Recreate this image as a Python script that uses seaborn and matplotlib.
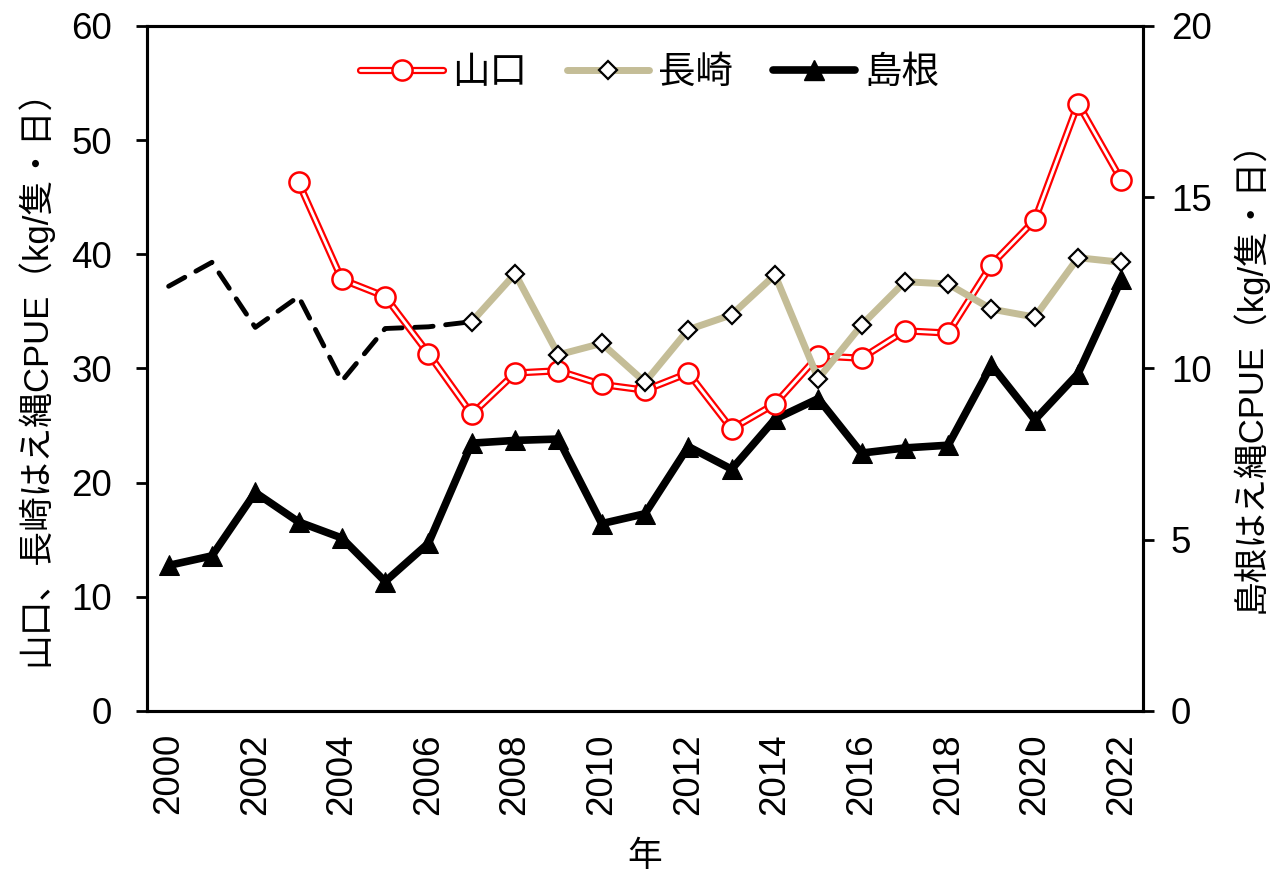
import numpy as np
import pandas as pd
import matplotlib
matplotlib.use("Agg")
import matplotlib.pyplot as plt
from matplotlib.lines import Line2D
from matplotlib.legend_handler import HandlerTuple
import seaborn as sns

# ---------------- data ----------------
years_all = list(range(2000, 2023))
yamaguchi_years = list(range(2003, 2023))
yamaguchi = [46.3, 37.8, 36.3, 31.3, 26.0, 29.6, 29.8, 28.6, 28.1, 29.6,
             24.7, 26.9, 31.1, 30.9, 33.3, 33.1, 39.1, 43.0, 53.2, 46.5]
nagasaki_years = list(range(2007, 2023))
nagasaki = [34.1, 38.3, 31.2, 32.2, 28.8, 33.4, 34.7, 38.2, 29.1, 33.8,
            37.6, 37.4, 35.2, 34.5, 39.7, 39.3]
nagasaki_early_years = list(range(2000, 2008))
nagasaki_early = [37.2, 39.3, 33.6, 36.3, 28.9, 33.5, 33.65, 34.1]
shimane = [4.25, 4.53, 6.38, 5.52, 5.05, 3.78, 4.9, 7.82, 7.9, 7.94,
           5.47, 5.76, 7.72, 7.06, 8.52, 9.12, 7.53, 7.68, 7.76, 10.1,
           8.5, 9.85, 12.6]
series_names = ["山口", "長崎", "島根"]
x_tick_labels = [str(y) for y in range(2000, 2023, 2)]
left_ylabel = "山口、長崎はえ縄CPUE（kg/隻・日）"
right_ylabel = "島根はえ縄CPUE（kg/隻・日）"
xlabel = "年"

# ---------------- style ----------------
sns.set_style("white")
plt.rcParams["font.family"] = ["Liberation Sans", "Noto Sans CJK JP"]
plt.rcParams["axes.linewidth"] = 2.2
for k in ("text.color", "axes.labelcolor", "xtick.color", "ytick.color",
          "axes.edgecolor"):
    plt.rcParams[k] = "black"

RED = "#FF0000"
TAN = "#C4BD97"

fig = plt.figure(figsize=(12.76, 8.74), dpi=100)
ax = fig.add_axes([0.1152, 0.1865, 0.7806, 0.7838])
ax2 = ax.twinx()
ax.set_zorder(ax2.get_zorder() + 1)
ax.patch.set_visible(False)

df_y = pd.DataFrame({"year": yamaguchi_years, "v": yamaguchi})
df_n = pd.DataFrame({"year": nagasaki_years, "v": nagasaki})
df_ne = pd.DataFrame({"year": nagasaki_early_years, "v": nagasaki_early})
df_s = pd.DataFrame({"year": years_all, "v": shimane})

# Shimane (right axis)
sns.lineplot(data=df_s, x="year", y="v", ax=ax2, color="black", lw=5.5,
             marker="^", markersize=14, markeredgecolor="black",
             markerfacecolor="black", estimator=None, sort=False, legend=False)

# Yamaguchi double red line
sns.lineplot(data=df_y, x="year", y="v", ax=ax, color=RED, lw=5.2,
             estimator=None, sort=False, legend=False, zorder=3)
sns.lineplot(data=df_y, x="year", y="v", ax=ax, color="white", lw=2.0,
             marker="o", markersize=14.5, markerfacecolor="white",
             markeredgecolor=RED, markeredgewidth=1.8,
             estimator=None, sort=False, legend=False, zorder=4)

# Nagasaki dashed early period
sns.lineplot(data=df_ne, x="year", y="v", ax=ax, color="black", lw=3.5,
             estimator=None, sort=False, legend=False, zorder=5,
             dashes=False)
ax.lines[-1].set_dashes([3.8, 2.6])
ax.lines[-1].set_dash_capstyle("round")

# Nagasaki tan
sns.lineplot(data=df_n, x="year", y="v", ax=ax, color=TAN, lw=5.0,
             marker="D", markersize=9.5, markerfacecolor="white",
             markeredgecolor="black", markeredgewidth=1.6,
             estimator=None, sort=False, legend=False, zorder=6)

# ---------------- axes ----------------
ax.set_xlim(1999.5, 2022.5)
ax.set_ylim(0, 60)
ax2.set_ylim(0, 20)
ax.set_yticks(range(0, 61, 10))
ax2.set_yticks(range(0, 21, 5))

major = list(range(2000, 2023, 2))
ax.set_xticks(major)
ax.set_xticklabels(x_tick_labels, rotation=90)
ax.set_xticks([y - 0.5 for y in range(2000, 2024)], minor=True)
ax.tick_params(axis="x", which="major", length=0, pad=16, labelsize=26.5)
ax.tick_params(axis="x", which="minor", length=8, width=2, direction="out")
ax.tick_params(axis="y", which="major", length=8, width=2, direction="out",
               pad=17, labelsize=26.5, left=True)
ax2.tick_params(axis="y", which="major", length=8, width=2, direction="out",
                pad=12, labelsize=26.5, right=True)

for a in (ax, ax2):
    for s in a.spines.values():
        s.set_visible(True)
        s.set_color("black")
        s.set_linewidth(2.2)

ax.set_xlabel(xlabel, fontsize=25, labelpad=18)
ax.set_ylabel(left_ylabel, fontsize=25, labelpad=14)
ax2.set_ylabel(right_ylabel, fontsize=25, labelpad=14)
ax.grid(False)
ax2.grid(False)

# ---------------- legend ----------------
h_y = (Line2D([], [], color=RED, lw=5.2),
       Line2D([], [], color="white", lw=2.0, marker="o", markersize=14.5,
              markerfacecolor="white", markeredgecolor=RED,
              markeredgewidth=1.8))
h_n = Line2D([], [], color=TAN, lw=5.0, marker="D", markersize=9.5,
             markerfacecolor="white", markeredgecolor="black",
             markeredgewidth=1.6)
h_s = Line2D([], [], color="black", lw=5.5, marker="^", markersize=14)
ax.legend([h_y, h_n, h_s], series_names, loc="center",
          bbox_to_anchor=(0.505, 0.931), ncol=3, frameon=False,
          fontsize=27, handlelength=2.2, handletextpad=0.25,
          columnspacing=1.05,
          handler_map={tuple: HandlerTuple(ndivide=1, pad=0)})

fig.savefig("out.png", dpi=100)
